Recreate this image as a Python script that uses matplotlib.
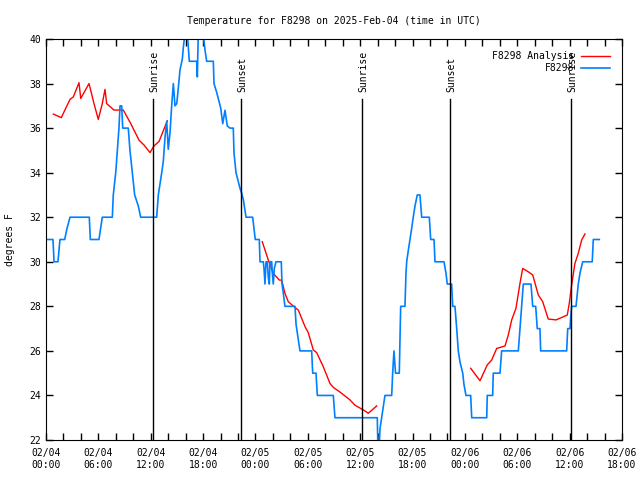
import numpy as np
import matplotlib
matplotlib.use("Agg")
import matplotlib.pyplot as plt

plt.rcParams["font.family"] = "DejaVu Sans Mono"
plt.rcParams["font.size"] = 7

# hours since 2025-02-04 00:00 UTC
obs_hours = [0, 0.80, 0.92, 1.37, 1.60, 2.14, 2.41, 2.75, 4.96, 5.08, 6.07, 6.45, 7.60, 7.71,
             7.99, 8.17, 8.36, 8.48, 8.67, 8.79, 9.43, 9.62, 9.89, 10.16, 10.58, 10.85, 12.68,
             12.87, 13.26, 13.44, 13.64, 13.83, 14.01, 14.21, 14.40, 14.59, 14.78, 14.98, 15.16,
             15.35, 15.62, 15.73, 15.93, 16.19, 16.42, 17.27, 17.34, 17.45, 17.65, 18.02, 18.22,
             18.41, 19.17, 19.25, 19.56, 19.82, 20.02, 20.25, 20.51, 20.77, 21.08, 21.46, 21.54,
             21.77, 22.03, 22.23, 22.42, 22.61, 22.92, 23.68, 23.83, 23.98, 24.44, 24.52, 24.90,
             24.98, 25.09, 25.21, 25.36, 25.47, 25.59, 25.67, 25.86, 25.93, 26.04, 26.16, 26.35,
             26.96, 27.04, 27.19, 27.38, 28.53, 28.65, 28.91, 29.10, 30.44, 30.56, 30.94, 31.09,
             32.92, 33.11, 37.96, 38.04, 38.16, 38.27, 38.46, 38.65, 38.84, 39.04, 39.61, 39.72,
             39.87, 40.05, 40.48, 40.56, 40.64, 41.13, 41.25, 41.33, 41.51, 41.71, 41.90, 42.08,
             42.28, 42.54, 42.85, 43.05, 43.92, 44.08, 44.46, 44.57, 45.60, 45.83, 45.98, 46.48,
             46.60, 46.86, 47.06, 47.24, 47.44, 47.75, 47.89, 48.12, 48.66, 48.78, 50.50, 50.56,
             51.18, 51.25, 52.02, 52.21, 54.12, 54.31, 54.51, 54.69, 55.57, 55.77, 56.11, 56.29,
             56.60, 56.68, 59.66, 59.78, 60.04, 60.12, 60.23, 60.73, 60.99, 61.19, 61.50, 62.59,
             62.71, 63.40]
obs_temp = [31, 31, 30, 30, 31, 31, 31.5, 32, 32, 31, 31, 32, 32, 33,
            34, 35, 36, 37, 37, 36, 36, 35, 34, 33, 32.5, 32, 32,
            33, 34, 34.5, 35.6, 36.3, 35.05, 35.8, 37, 38, 37, 37.1, 37.8,
            38.6, 39.1, 39.6, 40.3, 40.3, 39, 39, 38.3, 40.3, 40.3, 40.2, 39.5,
            39, 39, 38, 37.6, 37.2, 36.9, 36.2, 36.8, 36.1, 36, 36, 34.9,
            34, 33.6, 33.3, 33.07, 32.8, 32, 32, 31.5, 31, 31, 30, 30,
            29.7, 29, 30, 30, 29.3, 29, 30, 30, 29.5, 29, 29.7, 30,
            30, 29, 28.6, 28, 28, 27.2, 26.5, 26, 26, 25, 25, 24,
            24, 23, 23, 21.5, 21.5, 22.5, 23, 23.5, 24, 24, 24, 25,
            26, 25, 25, 26.5, 28, 28, 29.5, 30, 30.5, 31, 31.5, 32,
            32.5, 33, 33, 32, 32, 31, 31, 30, 30, 29.5, 29, 29,
            28, 28, 27, 26, 25.5, 25, 24.5, 24, 24, 23, 23, 24,
            24, 25, 25, 26, 26, 27, 28, 29, 29, 28, 28, 27,
            27, 26, 26, 27, 27, 27.5, 28, 28, 29, 29.5, 30, 30,
            31, 31]

# analysis series, NaN marks the gaps
ana_hours = [0.84, 1.75, 2.75, 3.13, 3.78, 3.98, 4.93, 5.50, 5.99, 6.45, 6.76, 6.95, 7.79,
             8.86, 9.70, 10.66, 11.23, 11.92, 12.37, 12.95, 13.90, np.nan,
             24.78, 25.47, 26.04, 26.73, 27.01, 27.38, 27.76, 28.34, 28.91, 29.68, 30.05,
             30.63, 31.02, 31.77, 32.54, 32.92, 33.69, 34.83, 35.41, 36.36, 36.93, 37.89, np.nan,
             48.66, 49.73, 50.56, 51.07, 51.64, 52.59, 52.97, 53.36, 53.85, 54.31, 54.62,
             55.26, 55.77, 56.41, 56.91, 57.55, 58.44, 59.09, 59.73, 59.96, 60.23, 60.61,
             60.99, 61.38, 61.76]
ana_temp = [36.63, 36.47, 37.29, 37.4, 38.04, 37.33, 38.0, 37.1, 36.39, 37.1, 37.74, 37.1, 36.81,
            36.81, 36.21, 35.46, 35.24, 34.9, 35.2, 35.4, 36.33, np.nan,
            30.9, 30.08, 29.48, 29.18, 29.17, 28.58, 28.21, 28.01, 27.83, 27.09, 26.82,
            26.04, 25.92, 25.29, 24.54, 24.36, 24.15, 23.8, 23.56, 23.35, 23.2, 23.53, np.nan,
            25.22, 24.66, 25.37, 25.59, 26.11, 26.22, 26.71, 27.39, 27.91, 29.03, 29.7,
            29.55, 29.41, 28.51, 28.21, 27.43, 27.39, 27.5, 27.61, 28.14, 28.96, 29.93,
            30.38, 30.98, 31.25]

sun_hours = [12.26, 22.34, 36.21, 46.29, 60.15]
sun_labels = ["Sunrise", "Sunset", "Sunrise", "Sunset", "Sunrise"]

tick_hours = list(range(0, 67, 6))
tick_labels = ["02/04\n00:00", "02/04\n06:00", "02/04\n12:00", "02/04\n18:00",
               "02/05\n00:00", "02/05\n06:00", "02/05\n12:00", "02/05\n18:00",
               "02/06\n00:00", "02/06\n06:00", "02/06\n12:00", "02/06\n18:00"]

fig = plt.figure(figsize=(6.4, 4.8), dpi=100)
ax = fig.add_axes([46 / 640, 40 / 480, 576 / 640, 401 / 480])

ax.plot(ana_hours, ana_temp, color="#ff0000", lw=1.0, label="F8298 Analysis")
ax.plot(obs_hours, obs_temp, color="#0080ff", lw=1.2, label="F8298")

for h, lab in zip(sun_hours, sun_labels):
    ax.plot([h, h], [22, 37.3], color="black", lw=1.0)
    ax.text(h + 0.2, 37.62, lab, rotation=90, ha="center", va="bottom", fontsize=7)

ax.set_xlim(0, 66)
ax.set_ylim(22, 40)
ax.set_xticks(tick_hours)
ax.set_xticklabels(tick_labels)
ax.set_xticks(range(0, 67, 2), minor=True)
ax.set_yticks(range(22, 41, 2))
ax.tick_params(axis="both", which="both", direction="in", top=True, right=True,
               length=5, width=1, labelsize=7)
ax.tick_params(axis="x", which="major", pad=6)
ax.set_ylabel("degrees F", fontsize=7, labelpad=10)
ax.set_title("Temperature for F8298 on 2025-Feb-04 (time in UTC)", fontsize=7, pad=11)

leg = ax.legend(loc="upper right", frameon=False, fontsize=7, markerfirst=False,
                handlelength=3.0, borderaxespad=0.85, labelspacing=0.2, handletextpad=0.7)
for t in leg.get_texts():
    t.set_ha("right")

fig.savefig("out.png", dpi=100)
